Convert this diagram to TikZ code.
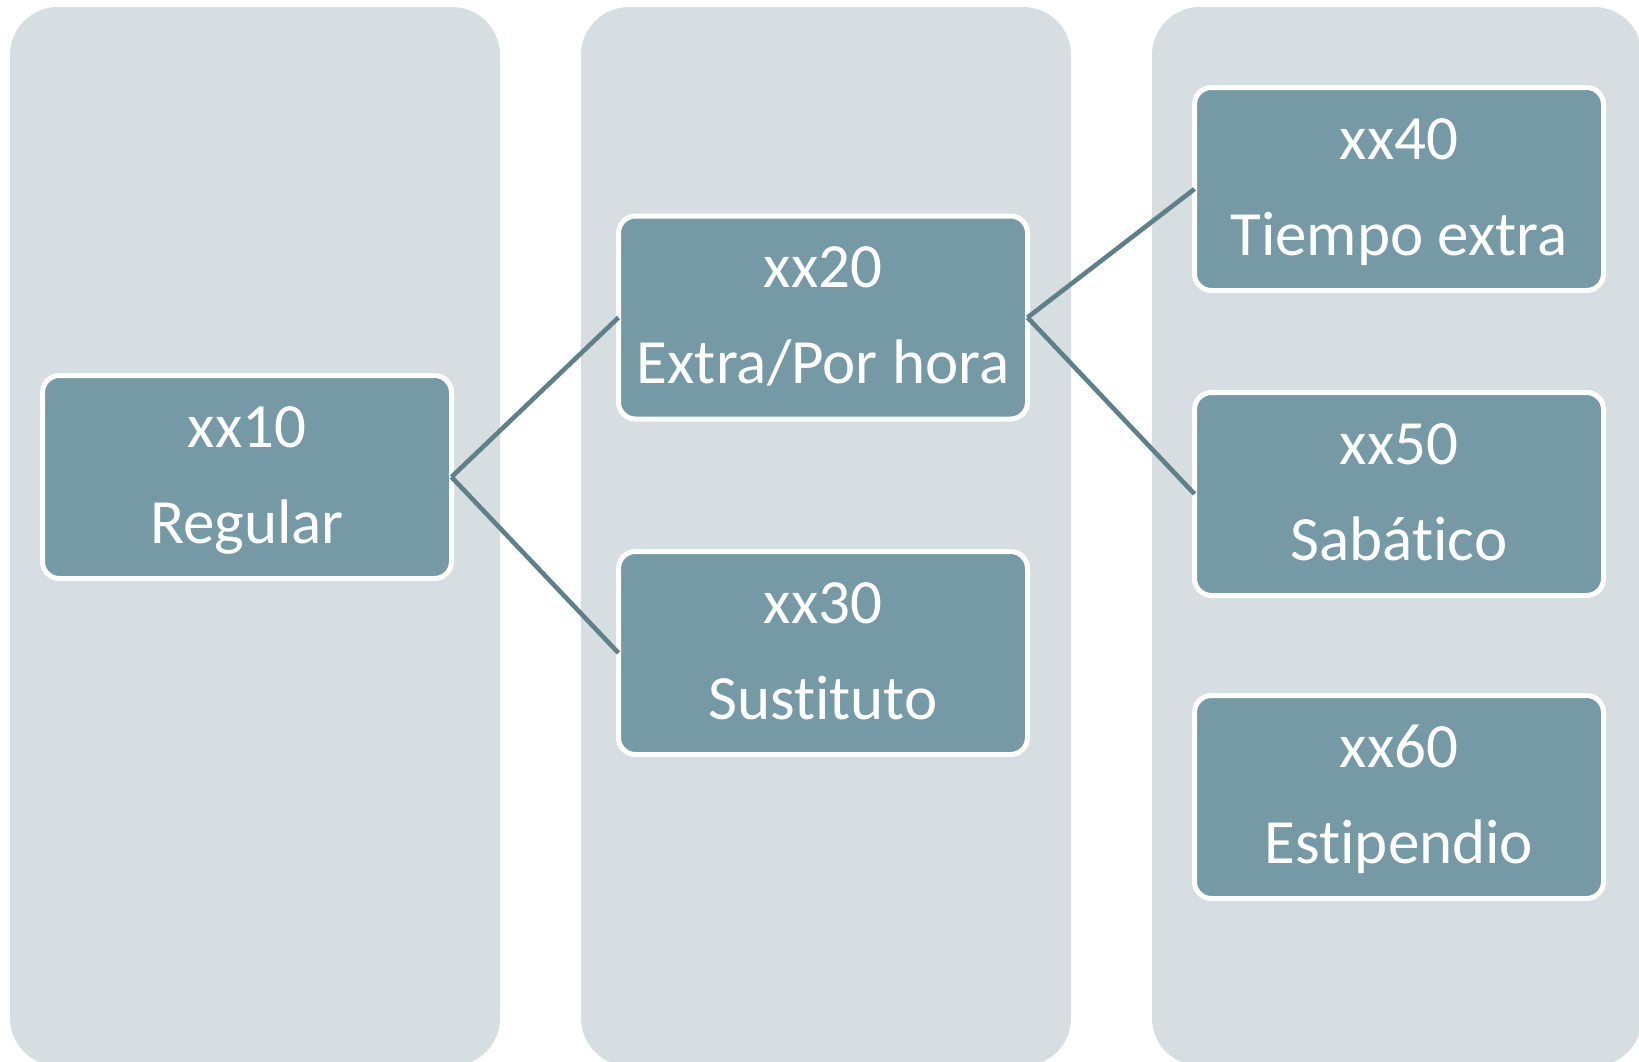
\documentclass[tikz,border=0pt]{standalone}
\usepackage{fontspec}
\setmainfont{Carlito}[Ligatures={NoCommon}]
\definecolor{colbg}{HTML}{D6DEE1}
\definecolor{boxfill}{HTML}{769AA5}
\definecolor{linkcol}{HTML}{5F8089}
\pgfdeclareradialshading{vignette}{\pgfpoint{0bp}{0bp}}{color(0bp)=(white); color(50bp)=(white); color(62bp)=(black!5); color(71bp)=(black!9)}
\tikzset{
  column/.style={fill=colbg, draw=none, rounded corners=24pt},
  itembox/.style={draw=white, line width=2.5pt, fill=boxfill, rounded corners=8.5pt,
    minimum width=204.5pt, minimum height=101.5pt, inner sep=0pt, outer sep=0pt},
  itemtxt/.style={text=white, font=\fontsize{31.5pt}{48pt}\selectfont, inner sep=0pt, anchor=base},
  link/.style={draw=linkcol, line width=2.3pt}
}
\begin{document}
\begin{tikzpicture}[x=0.5pt, y=-0.5pt]
\useasboundingbox (0,0) rectangle (1639,1061);
\clip (0,0) rectangle (1639,1061);
\shade[shading=vignette] (0,0) rectangle (1639,1061);
% columns
\path[column] (10,7) rectangle (500,1066);
\path[column] (581,7) rectangle (1071,1066);
\path[column] (1152,7) rectangle (1642,1066);
% boxes
\node[itembox] (n10) at (247,477) {};
\node[itembox] (n20) at (823,317.5) {};
\node[itembox] (n30) at (823,653) {};
\node[itembox] (n40) at (1399,189) {};
\node[itembox] (n50) at (1399,494) {};
\node[itembox] (n60) at (1399,797) {};
% connectors
\draw[link] (n10.east) -- (n20.west);
\draw[link] (n10.east) -- (n30.west);
\draw[link] (n20.east) -- (n40.west);
\draw[link] (n20.east) -- (n50.west);
% texts
\node[itemtxt] (t10a) at ([yshift=15pt]n10.center) {xx10};
\node[itemtxt] (t10b) at ([yshift=-33pt]n10.center) {Regular};
\node[itemtxt] (t20a) at ([yshift=15pt]n20.center) {xx20};
\node[itemtxt] (t20b) at ([yshift=-33pt]n20.center) {Extra/Por hora};
\node[itemtxt] (t30a) at ([yshift=15pt]n30.center) {xx30};
\node[itemtxt] (t30b) at ([yshift=-33pt]n30.center) {Sustituto};
\node[itemtxt] (t40a) at ([yshift=15pt]n40.center) {xx40};
\node[itemtxt] (t40b) at ([yshift=-33pt]n40.center) {Tiempo extra};
\node[itemtxt] (t50a) at ([yshift=15pt]n50.center) {xx50};
\node[itemtxt] (t50b) at ([yshift=-33pt]n50.center) {Sabático};
\node[itemtxt] (t60a) at ([yshift=15pt]n60.center) {xx60};
\node[itemtxt] (t60b) at ([yshift=-33pt]n60.center) {Estipendio};
\end{tikzpicture}
\end{document}
